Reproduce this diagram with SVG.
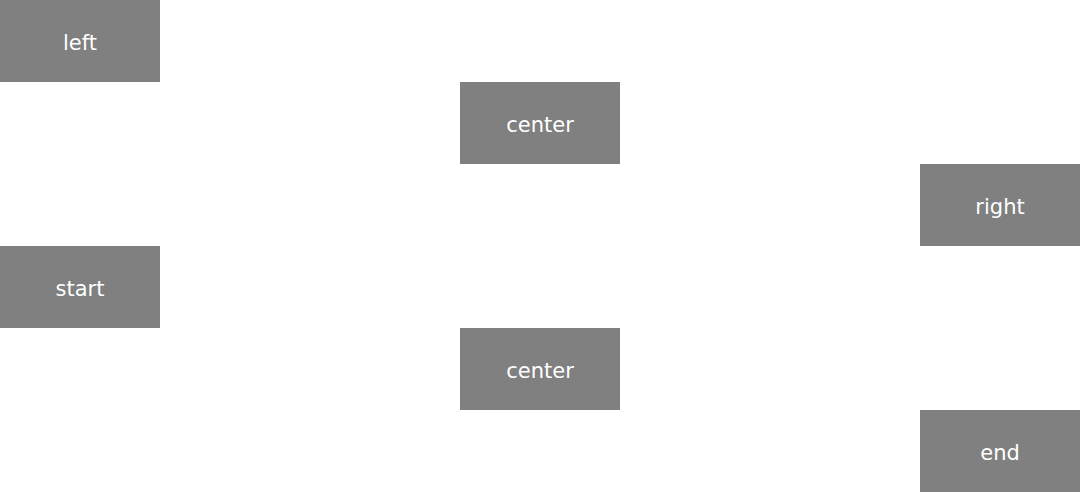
<svg xmlns="http://www.w3.org/2000/svg" width="1080" height="492" viewBox="0 0 1080 492">
<style>
.box{fill:#808080}
.lbl{fill:#fff;font-family:"DejaVu Sans",sans-serif;font-size:21px;text-anchor:middle;dominant-baseline:central}
</style>
<rect width="1080" height="492" fill="#fff"/>
<g id="connectors"></g>
<g id="left"><rect class="box" x="0" y="0" width="160" height="82"/><text class="lbl" x="80" y="43">left</text></g>
<g id="center1"><rect class="box" x="460" y="82" width="160" height="82"/><text class="lbl" x="540" y="125">center</text></g>
<g id="right"><rect class="box" x="920" y="164" width="160" height="82"/><text class="lbl" x="1000" y="207">right</text></g>
<g id="start"><rect class="box" x="0" y="246" width="160" height="82"/><text class="lbl" x="80" y="289">start</text></g>
<g id="center2"><rect class="box" x="460" y="328" width="160" height="82"/><text class="lbl" x="540" y="371">center</text></g>
<g id="end"><rect class="box" x="920" y="410" width="160" height="82"/><text class="lbl" x="1000" y="453">end</text></g>
</svg>
